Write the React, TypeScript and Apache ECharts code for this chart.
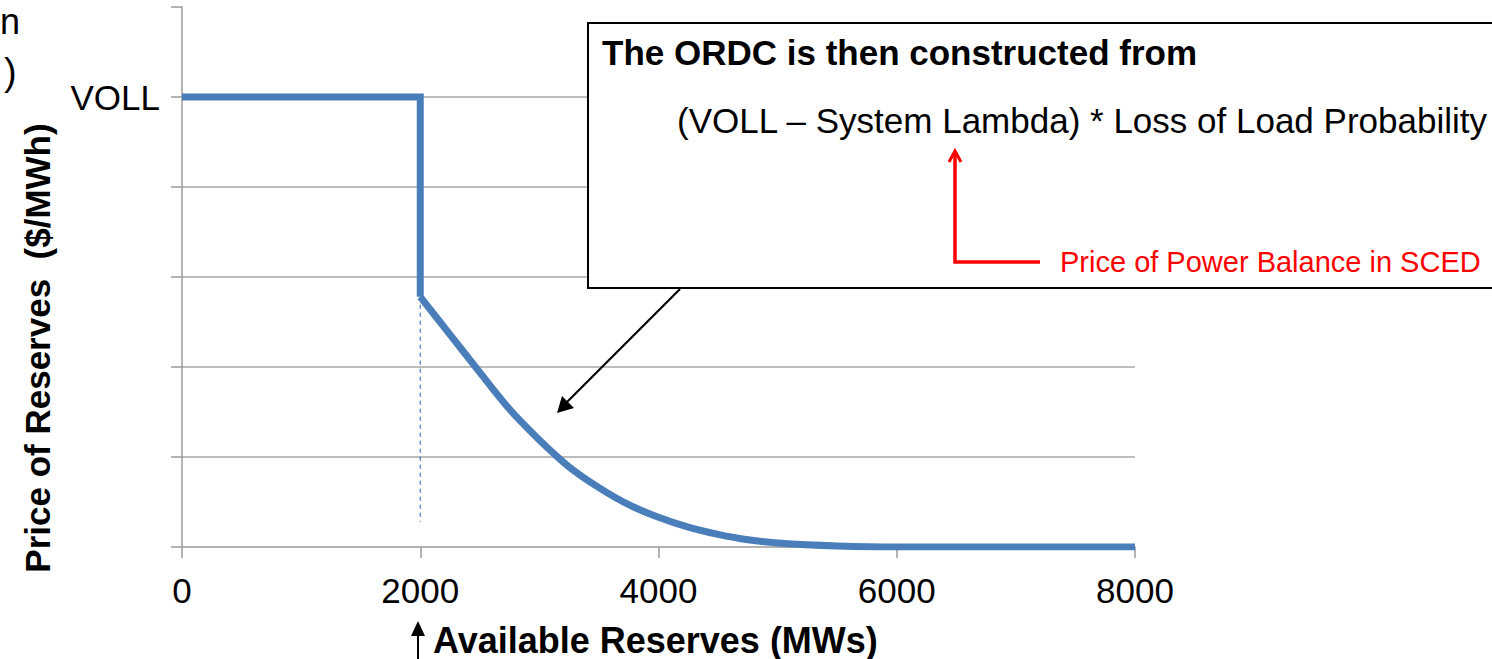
import React, { useEffect, useRef } from "react";
import * as echarts from "echarts";

// ---- data ----
const xTickValues = [0, 2000, 4000, 6000, 8000];
const yMax = 6;
const vollLevel = 5;
const vollLabel = "VOLL";

// Flat VOLL segment and vertical drop at 2000 MW
const stepX = [0, 2000, 2000];
const stepY = [5, 5, 2.78];

// ORDC decaying part
const curveX = [2000, 2250, 2500, 2750, 3000, 3250, 3500, 3750, 4000, 4250, 4500, 4750, 5000, 5500, 6000, 7000, 8000];
const curveY = [2.78, 2.36, 1.94, 1.53, 1.19, 0.89, 0.66, 0.47, 0.33, 0.22, 0.14, 0.08, 0.045, 0.012, 0.0, 0.0, 0.0];

// Dashed guide at 2000 MW
const dashX = [2000, 2000];
const dashY = [2.78, 0.28];

const xAxisTitle = "Available Reserves (MWs)";
const yAxisTitle = "Price of Reserves  ($/MWh)";
const boxTitle = "The ORDC is then constructed from";
const boxFormula = "(VOLL \u2013 System Lambda) * Loss of Load Probability";
const redNote = "Price of Power Balance in SCED";

const FONT = "'Liberation Sans', Arial, sans-serif";

export default function App() {
  const ref = useRef<HTMLDivElement>(null);

  useEffect(() => {
    document.body.style.margin = "0";
    if (!ref.current) return;
    const chart = echarts.init(ref.current, undefined, { renderer: "svg" });

    const zip = (xs: number[], ys: number[]) => xs.map((x, i) => [x, ys[i]]);

    chart.setOption({
      animation: false,
      backgroundColor: "#ffffff",
      grid: { left: 182, right: 357, top: 7, bottom: 112, containLabel: false },
      xAxis: {
        type: "value",
        min: xTickValues[0],
        max: xTickValues[xTickValues.length - 1],
        interval: 2000,
        axisLine: { show: true, lineStyle: { color: "#9a9a9a", width: 1.5 } },
        axisTick: { show: true, length: 11, lineStyle: { color: "#9a9a9a", width: 1.5 } },
        axisLabel: {
          color: "#000",
          fontSize: 35,
          fontFamily: FONT,
          margin: 26,
          formatter: (v: number) => String(v),
        },
        splitLine: { show: false },
      },
      yAxis: {
        type: "value",
        min: 0,
        max: yMax,
        interval: 1,
        axisLine: { show: true, onZero: false, lineStyle: { color: "#9a9a9a", width: 1.5 } },
        axisTick: { show: true, length: 11, lineStyle: { color: "#9a9a9a", width: 1.5 } },
        axisLabel: {
          color: "#000",
          fontSize: 35,
          fontFamily: FONT,
          margin: 22,
          formatter: (v: number) => (v === vollLevel ? vollLabel : ""),
        },
        splitLine: {
          show: true,
          showMinLine: false,
          showMaxLine: false,
          lineStyle: { color: "#a6a6a6", width: 1.5 },
        },
      },
      series: [
        {
          type: "line",
          data: zip(dashX, dashY),
          symbol: "none",
          lineStyle: { color: "#4472C4", width: 1.2, type: [4, 4] },
          z: 1,
        },
        {
          type: "line",
          data: zip(stepX, stepY),
          symbol: "none",
          smooth: false,
          lineStyle: { color: "#4A7EBB", width: 7, join: "miter", cap: "butt" },
          z: 3,
        },
        {
          type: "line",
          data: zip(curveX, curveY),
          symbol: "none",
          smooth: 0.3,
          lineStyle: { color: "#4A7EBB", width: 7, cap: "butt" },
          z: 3,
        },
      ],
      graphic: [
        // fragments on the left edge
        { type: "text", z: 100, style: { text: "n", x: 0, y: 21, font: `36px ${FONT}`, fill: "#000", align: "left", verticalAlign: "middle" } },
        { type: "text", z: 100, style: { text: ")", x: 4, y: 72, font: `38px ${FONT}`, fill: "#000", align: "left", verticalAlign: "middle" } },
        // y axis title
        {
          type: "text",
          z: 100,
          x: 37,
          y: 348,
          rotation: Math.PI / 2,
          style: { text: yAxisTitle, x: 0, y: 0, font: `bold 35px ${FONT}`, fill: "#000", align: "center", verticalAlign: "middle" },
        },
        // x axis title and arrow
        { type: "text", z: 100, style: { text: xAxisTitle, x: 433, y: 640, font: `bold 36px ${FONT}`, fill: "#000", align: "left", verticalAlign: "middle" } },
        { type: "line", z: 100, shape: { x1: 418, y1: 659, x2: 418, y2: 630 }, style: { stroke: "#000", lineWidth: 2 } },
        { type: "polygon", z: 100, shape: { points: [[418, 621], [411, 636], [425, 636]] }, style: { fill: "#000" } },
        // annotation box
        {
          type: "rect",
          z: 100,
          shape: { x: 588, y: 23, width: 1000, height: 265 },
          style: { fill: "#fff", stroke: "#000", lineWidth: 2 },
        },
        { type: "text", z: 101, style: { text: boxTitle, x: 602, y: 52, font: `bold 35px ${FONT}`, fill: "#000", align: "left", verticalAlign: "middle" } },
        { type: "text", z: 101, style: { text: boxFormula, x: 677, y: 120, font: `35px ${FONT}`, fill: "#000", align: "left", verticalAlign: "middle" } },
        // red arrow + note
        {
          type: "polyline",
          z: 101,
          shape: { points: [[1040, 262], [955, 262], [955, 153]] },
          style: { stroke: "#FF0000", lineWidth: 3.5, fill: "none" },
        },
        {
          type: "polyline",
          z: 101,
          shape: { points: [[949, 162], [955, 151], [961, 162]] },
          style: { stroke: "#FF0000", lineWidth: 3, fill: "none" },
        },
        { type: "text", z: 101, style: { text: redNote, x: 1060, y: 262, font: `29px ${FONT}`, fill: "#FF0000", align: "left", verticalAlign: "middle" } },
        // black pointer arrow to the curve
        { type: "line", z: 100, shape: { x1: 680, y1: 289, x2: 566, y2: 403 }, style: { stroke: "#000", lineWidth: 2.2 } },
        { type: "polygon", z: 100, shape: { points: [[557, 413], [562, 396], [574, 408]] }, style: { fill: "#000" } },
      ],
    });

    return () => chart.dispose();
  }, []);

  return <div ref={ref} style={{ width: 1492, height: 659 }} />;
}
